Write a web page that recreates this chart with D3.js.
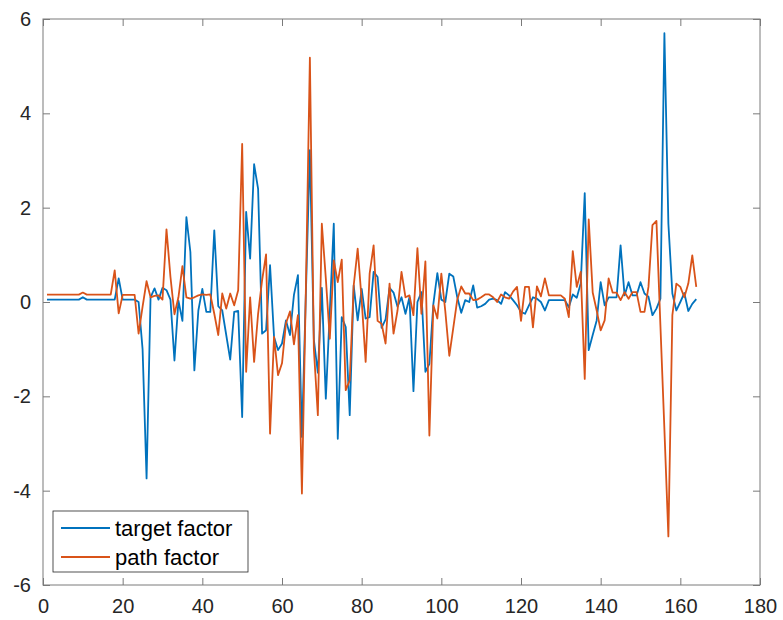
<!DOCTYPE html>
<html>
<head>
<meta charset="utf-8">
<script src="https://cdn.jsdelivr.net/npm/d3@7"></script>
<style>
  body { margin: 0; background: #fff; }
  svg { display: block; font-family: "Liberation Sans", Arial, sans-serif; }
</style>
</head>
<body>
<svg id="chart"></svg>
<script>
// values for x = 1..164
let targetFactor = [
  0.05, 0.05, 0.05, 0.05, 0.05, 0.05, 0.05, 0.05, 0.05, 0.1,
  0.05, 0.05, 0.05, 0.05, 0.05, 0.05, 0.05, 0.05, 0.5, 0.05,
  0.05, 0.05, 0.05, 0.0, -1.0, -3.74, 0.1, 0.29, 0.05, 0.3,
  0.25, 0.05, -1.24, 0.03, -0.4, 1.8, 1.06, -1.45, -0.18, 0.28,
  -0.21, -0.21, 1.52, -0.09, -0.18, -0.7, -1.22, -0.21, -0.19, -2.44,
  1.91, 0.92, 2.92, 2.4, -0.67, -0.6, 0.78, -0.74, -1.02, -0.88,
  -0.39, -0.7, 0.15, 0.57, -2.86, 0.2, 3.22, -0.8, -1.5, 0.3,
  -2.05, -0.2, 1.66, -2.9, -0.32, -0.53, -2.4, 0.35, -0.39, 0.28,
  -0.35, -0.32, 0.64, 0.53, -0.55, -0.37, 0.3, 0.2, -0.1, 0.1,
  -0.25, 0.1, -1.89, 0.0, 0.21, -1.48, -1.31, -0.04, 0.61, 0.05,
  0.0, 0.6, 0.54, 0.1, -0.23, 0.04, 0.0, 0.35, -0.12, -0.09,
  -0.04, 0.05, 0.07, 0.04, -0.04, 0.21, 0.14, 0.04, -0.07, -0.21,
  -0.25, -0.07, 0.1, 0.07, 0.0, -0.18, 0.04, 0.04, 0.04, 0.04,
  0.04, -0.11, 0.16, 0.09, 0.4, 2.31, -1.02, -0.7, -0.39, 0.42,
  -0.07, 0.1, 0.1, 0.1, 1.2, 0.14, 0.42, 0.14, 0.14, 0.42,
  0.18, 0.11, -0.28, -0.14, 0.07, 5.7, 1.66, 0.18, -0.18, 0.0,
  0.19, -0.19, -0.04, 0.06
]
let pathFactor = [
  0.157, 0.157, 0.157, 0.157, 0.157, 0.157, 0.157, 0.157, 0.157, 0.2,
  0.157, 0.157, 0.157, 0.157, 0.157, 0.157, 0.157, 0.67, -0.24, 0.15,
  0.15, 0.15, 0.15, -0.67, -0.1, 0.44, 0.1, 0.13, 0.14, 0.05,
  1.54, 0.53, -0.26, 0.1, 0.76, 0.1, 0.07, 0.1, 0.14, 0.16,
  0.15, 0.16, -0.25, -0.7, 0.18, -0.14, 0.18, -0.07, 0.25, 3.35,
  -1.48, 0.1, -1.27, -0.25, 0.46, 1.01, -2.79, -0.74, -1.55, -1.3,
  -0.45, -0.2, -0.9, -0.28, -4.06, 0.3, 5.18, -1.0, -2.4, 1.66,
  0.5, -0.78, 0.88, 0.42, 0.9, -1.87, -1.66, 0.35, 1.13, 0.04,
  -1.27, 0.6, 1.2, -0.4, -0.46, -0.88, 0.39, -0.67, -0.18, 0.64,
  0.1, 0.14, -0.28, 1.14, -0.25, 0.86, -2.83, -0.07, -0.35, 0.6,
  -0.2, -1.14, -0.55, 0.05, 0.33, 0.18, 0.18, 0.04, 0.05, 0.1,
  0.16, 0.16, 0.1, 0.0, 0.16, 0.1, 0.07, 0.22, 0.32, -0.4,
  0.32, 0.32, -0.54, 0.33, 0.12, 0.5, 0.14, 0.14, 0.14, 0.14,
  0.07, -0.32, 1.08, 0.32, 0.64, -1.63, 1.75, 0.2, -0.18, -0.6,
  -0.39, 0.5, 0.2, 0.2, 0.04, 0.21, 0.07, 0.21, 0.21, -0.21,
  -0.21, 0.32, 1.63, 1.72, -0.5, -2.7, -4.97, -0.28, 0.39, 0.32,
  0.1, 0.39, 0.99, 0.32
]
let seriesNames = ['target factor', 'path factor']
let seriesColors = ['#0072BD', '#D95319']
let xTicks = [0, 20, 40, 60, 80, 100, 120, 140, 160, 180]
let yTicks = [-6, -4, -2, 0, 2, 4, 6]

let width = 783
let height = 620
let plotLeft = 43, plotRight = 760, plotTop = 19, plotBottom = 585

let svg = d3.select('#chart').attr('width', width).attr('height', height)

let xScale = d3.scaleLinear().domain([0, 180]).range([plotLeft, plotRight])
let yScale = d3.scaleLinear().domain([-6, 6]).range([plotBottom, plotTop])

// box
svg.append('rect')
  .attr('x', plotLeft).attr('y', plotTop)
  .attr('width', plotRight - plotLeft).attr('height', plotBottom - plotTop)
  .attr('fill', 'none').attr('stroke', '#7a7a7a').attr('stroke-width', 1)

let tickLen = 7
let styleAxis = (g) => {
  g.select('.domain').remove()
  g.selectAll('.tick line').attr('stroke', '#7a7a7a')
  g.selectAll('.tick text').attr('fill', '#262626').style('font-size', '20px')
}

svg.append('g')
  .attr('transform', 'translate(0,' + plotBottom + ')')
  .call(d3.axisBottom(xScale).tickValues(xTicks).tickSizeInner(-tickLen).tickPadding(14))
  .call(styleAxis)
svg.append('g')
  .attr('transform', 'translate(0,' + plotTop + ')')
  .call(d3.axisTop(xScale).tickValues(xTicks).tickSizeInner(-tickLen).tickFormat(''))
  .call(styleAxis)
svg.append('g')
  .attr('transform', 'translate(' + plotLeft + ',0)')
  .call(d3.axisLeft(yScale).tickValues(yTicks).tickSizeInner(-tickLen).tickPadding(12))
  .call(styleAxis)
svg.append('g')
  .attr('transform', 'translate(' + plotRight + ',0)')
  .call(d3.axisRight(yScale).tickValues(yTicks).tickSizeInner(-tickLen).tickFormat(''))
  .call(styleAxis)

// the minus sign in MATLAB labels is a plain hyphen
svg.selectAll('.tick text').text(function () { return d3.select(this).text().replace('\u2212', '-') })

let line = d3.line()
  .x((d, i) => xScale(i + 1))
  .y((d) => yScale(d))

let allSeries = [targetFactor, pathFactor]
allSeries.forEach((s, k) => {
  svg.append('path')
    .datum(s)
    .attr('fill', 'none')
    .attr('stroke', seriesColors[k])
    .attr('stroke-width', 1.8)
    .attr('stroke-linejoin', 'round')
    .attr('d', line)
})

// legend
let legend = svg.append('g').attr('transform', 'translate(53,511)')
legend.append('rect')
  .attr('width', 195).attr('height', 61)
  .attr('fill', '#fff').attr('stroke', '#262626').attr('stroke-width', 0.8)
seriesNames.forEach((name, k) => {
  let y = 17 + k * 29
  legend.append('line')
    .attr('x1', 8).attr('x2', 57).attr('y1', y).attr('y2', y)
    .attr('stroke', seriesColors[k]).attr('stroke-width', 1.8)
  legend.append('text')
    .attr('x', 62).attr('y', y + 8)
    .attr('fill', '#000')
    .style('font-size', '22px')
    .text(name)
})
</script>
</body>
</html>
